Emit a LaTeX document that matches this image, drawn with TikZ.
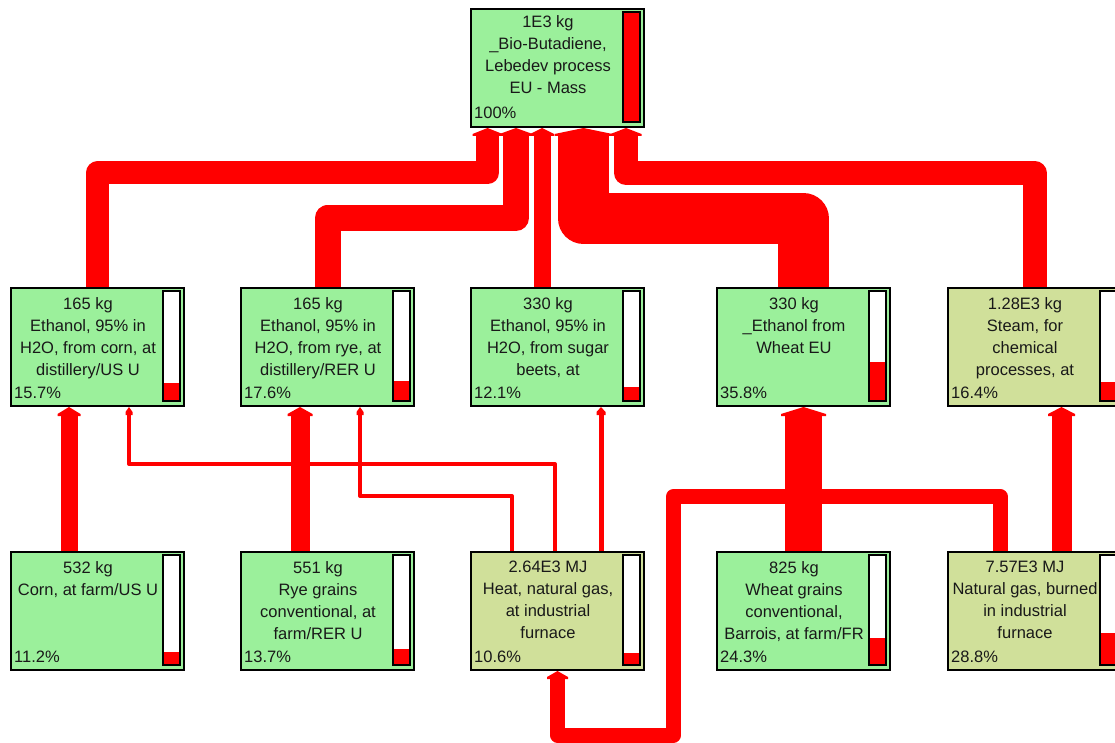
\documentclass[tikz,border=0pt]{standalone}
\usepackage{fontspec}
\setmainfont{Liberation Sans}
\usetikzlibrary{calc,backgrounds}

\definecolor{procgreen}{RGB}{155,240,155}
\definecolor{procolive}{RGB}{208,224,154}
\definecolor{flowred}{RGB}{255,0,0}

\tikzset{
  proc/.style={draw=black, line width=2pt, minimum width=173pt, minimum height=118pt,
               inner sep=0pt, anchor=north west},
  boxtext/.style={font=\fontsize{16.5}{22}\selectfont, align=center, inner sep=0pt, text=black!90},
  pcttext/.style={font=\fontsize{16.5}{22}\selectfont, inner sep=0pt, text=black!90},
  barframe/.style={draw=black, line width=1.6pt, fill=white},
  flow/.style={draw=flowred, line width=#1, line join=round, line cap=butt},
}

% process box: [text offset], name, left x, top y, fill colour, share in percent, label
\newcommand\procbox[7][10]{%
  \node[proc, fill=#5] (#2) at (#3,#4) {};
  \node[boxtext, anchor=north] (#2-t) at ({#3+78},{#4+#1}) {#7};
  \node[pcttext, anchor=base west] (#2-p) at ({#3+4},{#4+111}) {#6\%};
  \pgfmathsetmacro\barfill{#6/100*108}
  \draw[barframe] ({#3+153},{#4+4}) rectangle ({#3+170},{#4+114});
  \fill[flowred] ({#3+153.8},{#4+113.2}) rectangle ({#3+169.2},{#4+113.2-\barfill});
}

% arrow head at a port: port, stem width, overhang, rise, flat part
\newcommand\flowhead[5]{%
  \fill[flowred] ($(#1)+({-#2/2-#3},{#4})$) -- (#1) -- ($(#1)+({#2/2+#3},{#4})$)
    -- ($(#1)+({#2/2+#3},{#4+#5})$) -- ($(#1)+({-#2/2-#3},{#4+#5})$) -- cycle;
}

\begin{document}
\begin{tikzpicture}[x=1pt, y=-1pt]
\useasboundingbox (0,0) rectangle (1115,743);

% ---- process boxes ----
\procbox[7]{lebedev}{470}{8}{procgreen}{100}{1E3 kg\\\_Bio-Butadiene,\\Lebedev process\\EU - Mass}

\procbox{etcorn}{10}{287}{procgreen}{15.7}{165 kg\\Ethanol, 95\% in\\H2O, from corn, at\\distillery/US U}
\procbox{etrye}{240}{287}{procgreen}{17.6}{165 kg\\Ethanol, 95\% in\\H2O, from rye, at\\distillery/RER U}
\procbox{etbeet}{470}{287}{procgreen}{12.1}{330 kg\\Ethanol, 95\% in\\H2O, from sugar\\beets, at}
\procbox{etwheat}{716}{287}{procgreen}{35.8}{330 kg\\\_Ethanol from\\Wheat EU}
\procbox{steam}{947}{287}{procolive}{16.4}{1.28E3 kg\\Steam, for\\chemical\\processes, at}

\procbox{corn}{10}{551}{procgreen}{11.2}{532 kg\\Corn, at farm/US U}
\procbox{rye}{240}{551}{procgreen}{13.7}{551 kg\\Rye grains\\conventional, at\\farm/RER U}
\procbox{heat}{470}{551}{procolive}{10.6}{2.64E3 MJ\\Heat, natural gas,\\at industrial\\furnace}
\procbox{wheat}{716}{551}{procgreen}{24.3}{825 kg\\Wheat grains\\conventional,\\Barrois, at farm/FR}
\procbox{natgas}{947}{551}{procolive}{28.8}{7.57E3 MJ\\Natural gas, burned\\in industrial\\furnace}

% ---- input ports on the lower edges ----
\coordinate (in-corn)  at ([xshift=-70pt]lebedev.south);
\coordinate (in-rye)   at ([xshift=-41.5pt]lebedev.south);
\coordinate (in-beet)  at ([xshift=-15.5pt]lebedev.south);
\coordinate (in-wheat) at ([xshift=26pt]lebedev.south);
\coordinate (in-steam) at ([xshift=68.5pt]lebedev.south);

\coordinate (ec-corn)  at ([xshift=-28.5pt]etcorn.south);
\coordinate (ec-heat)  at ([xshift=31.5pt]etcorn.south);
\coordinate (er-rye)   at ([xshift=-27.5pt]etrye.south);
\coordinate (er-heat)  at ([xshift=32.5pt]etrye.south);
\coordinate (eb-heat)  at ([xshift=43.5pt]etbeet.south);
\coordinate (ew-wheat) at (etwheat.south);
\coordinate (st-gas)   at ([xshift=27pt]steam.south);
\coordinate (ht-gas)   at (heat.south);

% ---- flows ----
\begin{pgfonlayer}{background}
  % into the butadiene process
  \draw[flow=23pt] (etcorn.north) |- ([yshift=-45pt]in-corn) -- ([yshift=-8pt]in-corn);
  \draw[flow=26pt] (etrye.north) |- ([yshift=-90pt]in-rye) -- ([yshift=-8pt]in-rye);
  \draw[flow=17pt] ([xshift=-15.5pt]etbeet.north) -- ([yshift=-8pt]in-beet);
  \draw[flow=51pt] (etwheat.north) |- ([yshift=-90.5pt]in-wheat) -- ([yshift=-8pt]in-wheat);
  \draw[flow=24pt] (steam.north) |- ([yshift=-45pt]in-steam) -- ([yshift=-8pt]in-steam);
  \flowhead{in-corn}{23}{3.5}{6}{2}
  \flowhead{in-rye}{26}{3.5}{6}{2}
  \flowhead{in-beet}{17}{3.5}{6}{2}
  \flowhead{in-wheat}{51}{3.5}{6}{2}
  \flowhead{in-steam}{24}{3.5}{6}{2}

  % raw materials and energy
  \draw[flow=17pt] ([xshift=-28.5pt]corn.north) -- ([yshift=-8pt]ec-corn);
  \draw[flow=19pt] ([xshift=-27.5pt]rye.north) -- ([yshift=-8pt]er-rye);
  \draw[flow=37pt] (wheat.north) -- ([yshift=-8pt]ew-wheat);
  \draw[flow=20pt] ([xshift=27pt]natgas.north) -- ([yshift=-8pt]st-gas);
  \flowhead{ec-corn}{17}{3}{7}{2}
  \flowhead{er-rye}{19}{3}{7}{2}
  \flowhead{ew-wheat}{37}{4}{7}{2}
  \flowhead{st-gas}{20}{3.5}{7}{2}

  % heat to the distilleries
  \draw[flow=4pt] ([xshift=-2.5pt]heat.north) |- ([yshift=-57pt]ec-heat) -- ([yshift=-8pt]ec-heat);
  \draw[flow=4pt] ([xshift=-45.5pt]heat.north) |- ([yshift=-89pt]er-heat) -- ([yshift=-8pt]er-heat);
  \draw[flow=5pt] ([xshift=43.5pt]heat.north) -- ([yshift=-8pt]eb-heat);
  \flowhead{ec-heat}{4}{1.5}{5}{3}
  \flowhead{er-heat}{4}{1.5}{5}{3}
  \flowhead{eb-heat}{5}{2}{5}{3}

  % natural gas round to the heat process
  \draw[flow=15pt] ([xshift=-34.5pt]natgas.north)
      |- ([xshift=116pt,yshift=174.5pt]ht-gas)
      |- ([yshift=-64pt]ht-gas) -- ([yshift=-8pt]ht-gas);
  \flowhead{ht-gas}{15}{3}{6}{2}
\end{pgfonlayer}
\end{tikzpicture}
\end{document}
